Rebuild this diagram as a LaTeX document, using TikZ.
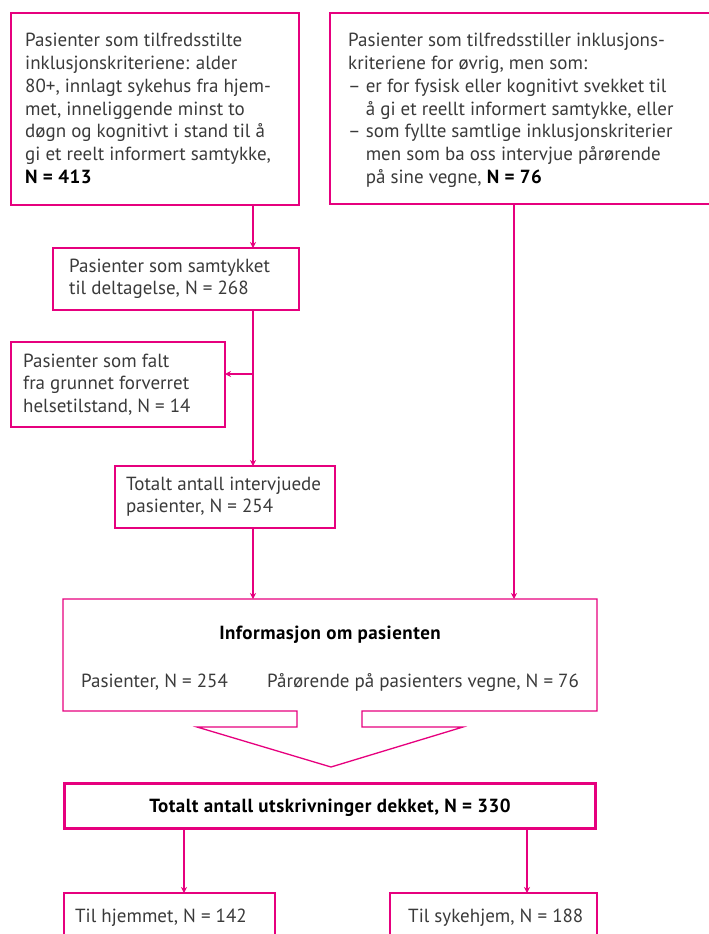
\documentclass[tikz,border=0pt]{standalone}
\usepackage{fontspec}
\setmainfont{PT Sans}
\usetikzlibrary{arrows.meta}
\definecolor{mag}{HTML}{E6007E}
\definecolor{txt}{HTML}{3A3A3A}
\newcommand\mlines[1]{\vtop{\halign{##\hfil\cr#1\crcr}}}
\newcommand\bN[1]{{\color{black}\bfseries\addfontfeatures{LetterSpace=2.5}#1}}
\begin{document}
\begin{tikzpicture}[x=1pt,y=-1pt,
  box/.style={draw=mag, line width=1.3pt, rectangle, inner sep=0pt, outer sep=0pt, anchor=north west},
  arr/.style={draw=mag, line width=1.3pt, -{Stealth[length=6pt,width=6pt]}},
  lbl/.style={anchor=base west, inner sep=0pt, text=txt, font=\fontsize{19}{22.7}\selectfont},
  bld/.style={anchor=base, inner sep=0pt, text=black, font=\fontsize{19}{22.7}\selectfont\bfseries\addfontfeatures{LetterSpace=2.5}}]
\useasboundingbox (0,0) rectangle (709,934);
\clip (0,0) rectangle (709,934);
% boxes
\node[box, minimum width=288pt, minimum height=192pt] (b1) at (11,13) {};
\node[box, minimum width=382pt, minimum height=191pt] (b2) at (330,13) {};
\node[box, minimum width=246pt, minimum height=62pt] (b3) at (53,248) {};
\node[box, minimum width=214pt, minimum height=85pt] (b4) at (11,342) {};
\node[box, minimum width=220pt, minimum height=62pt] (b5) at (115,466) {};
\node[box, draw=none, minimum width=534pt, minimum height=112pt] (b6) at (63,599) {};
\node[box, line width=3pt, minimum width=531pt, minimum height=45pt] (b7) at (64,783) {};
\node[box, minimum width=211pt, minimum height=60pt] (b8) at (64,893) {};
\node[box, minimum width=207pt, minimum height=60pt] (b9) at (390,893) {};
% outline of the information box with its downward arrow
\draw[mag, line width=1.3pt, line join=miter]
  (b6.north west) -- (b6.north east) -- (b6.south east) -- (362,711) -- (362,727) -- (463,727)
  -- (331,767) -- (197,727) -- (297,727) -- (297,711) -- (b6.south west) -- cycle;
% texts
\node[lbl] (t1) at (25,47) {\mlines{Pasienter som tilfredsstilte\cr inklusjonskriteriene: alder\cr 80+, innlagt sykehus fra hjem-\cr met, inneliggende minst to\cr døgn og kognitivt i stand til å\cr gi et reelt informert samtykke,\cr \bN{N = 413}}};
\node[lbl] (t2) at (348,47) {\mlines{Pasienter som tilfredsstiller inklusjons-\cr kriteriene for øvrig, men som:\cr – er for fysisk eller kognitivt svekket til\cr \hphantom{– }å gi et reellt informert samtykke, eller\cr – som fyllte samtlige inklusjonskriterier\cr \hphantom{– }men som ba oss intervjue pårørende\cr \hphantom{– }på sine vegne, \bN{N = 76}}};
\node[lbl] (t3) at (69,272) {\mlines{Pasienter som samtykket\cr til deltagelse, N = 268}};
\node[lbl] (t4) at (23,367) {\mlines{Pasienter som falt\cr fra grunnet forverret\cr helsetilstand, N = 14}};
\node[lbl] (t5) at (126,490) {\mlines{Totalt antall intervjuede\cr pasienter, N = 254}};
\node[bld] (t6) at (330,639) {Informasjon om pasienten};
\node[lbl] (t7) at (81,687) {Pasienter, N = 254};
\node[lbl] (t8) at (267,687) {Pårørende på pasienters vegne, N = 76};
\node[bld] (t9) at (330,812) {Totalt antall utskrivninger dekket, N = 330};
\node[lbl] (t10) at (75,922) {Til hjemmet, N = 142};
\node[lbl] (t11) at (408,922) {Til sykehjem, N = 188};
% connector lines
\coordinate (xa) at (253,0);
\coordinate (xb) at (514,0);
\coordinate (xc) at (184,0);
\coordinate (xd) at (527,0);
\coordinate (br) at (253,374);
\draw[arr] (b1.south -| xa) -- (b3.north -| xa);
\draw[arr] (b3.south -| xa) -- (b5.north -| xa);
\draw[arr] (br) -- (b4.east |- br);
\draw[arr] (b5.south -| xa) -- (b6.north -| xa);
\draw[arr] (b2.south -| xb) -- (b6.north -| xb);
\draw[arr] (b7.south -| xc) -- (b8.north -| xc);
\draw[arr] (b7.south -| xd) -- (b9.north -| xd);
\end{tikzpicture}
\end{document}
